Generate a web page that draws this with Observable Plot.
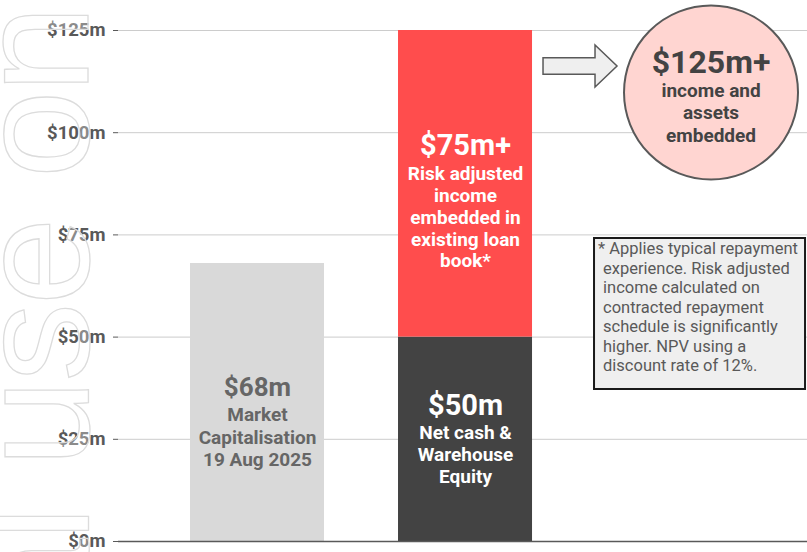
<!DOCTYPE html>
<html><head><meta charset="utf-8">
<script src="https://cdn.jsdelivr.net/npm/d3@7"></script>
<script src="https://cdn.jsdelivr.net/npm/@observablehq/plot@0.6"></script>
<style>
html,body{margin:0;padding:0;background:#fff;}
#chart{width:807px;height:552px;overflow:hidden;font-family:Roboto,sans-serif;}
#chart svg{display:block;}
</style></head><body><div id="chart"></div>
<script>
// ---- data ----
const categories = ["Market Capitalisation", "Embedded value"];
const segmentNames = ["Market Capitalisation", "Net cash & Warehouse Equity", "Risk adjusted income"];
const segmentCategory = ["Market Capitalisation", "Embedded value", "Embedded value"];
const segmentValues = [68, 50, 75];
const segmentColors = ["#d9d9d9", "#434343", "#ff4d4d"];
const headlines = ["$68m", "$50m", "$75m+"];
const bodyLabels = [
  "Market\nCapitalisation\n19 Aug 2025",
  "Net cash &\nWarehouse\nEquity",
  "Risk adjusted\nincome\nembedded in\nexisting loan\nbook*"
];
const yTicks = [0, 25, 50, 75, 100, 125];
const totalHeadline = "$125m+";
const totalBody = "income and\nassets\nembedded";
const noteLines = [
  "* Applies typical repayment",
  "experience. Risk adjusted",
  "income calculated on",
  "contracted repayment",
  "schedule is significantly",
  "higher. NPV using a",
  "discount rate of 12%."
];
const watermark = "For personal use only";

// ---- build table ----
const rows = segmentValues.map((v, i) => ({
  category: segmentCategory[i], name: segmentNames[i], value: v, color: segmentColors[i]
}));
const acc = {};
rows.forEach(r => { r.base = acc[r.category] || 0; acc[r.category] = r.base + r.value; r.top = acc[r.category]; });
const total = acc[categories[1]];
const totalRow = [{category: categories[1], total}];

function segLabels(i, dyHead, dyBody, color, headSize, lh) {
  const d = [rows[i]];
  return [
    Plot.text(d, {x: "category", y: "top", text: () => headlines[i], dy: dyHead, fill: color,
      fontSize: headSize, fontWeight: "bold", lineAnchor: "middle"}),
    Plot.text(d, {x: "category", y: "top", text: () => bodyLabels[i], dy: dyBody, fill: color,
      fontSize: 19, fontWeight: "bold", lineAnchor: "top", lineHeight: lh})
  ];
}

const plot = Plot.plot({
  width: 807, height: 552,
  marginTop: 30, marginBottom: 11, marginLeft: 118, marginRight: 0,
  style: {fontFamily: "Roboto, sans-serif", background: "white", overflow: "visible"},
  x: {domain: categories, paddingInner: 0.3558, paddingOuter: 0.834, align: 0.2075, round: false, axis: null},
  y: {domain: [0, 125], axis: null},
  color: {type: "identity"},
  marks: [
    Plot.gridY(yTicks, {stroke: "#cccccc", strokeOpacity: 1, strokeWidth: 1}),
    Plot.barY(rows, {x: "category", y1: "base", y2: "top", fill: "color"}),
    Plot.ruleY([0], {stroke: "#595959", strokeWidth: 1.5}),
    Plot.axisY(yTicks, {tickSize: 5, tickPadding: 8, tickFormat: d => `$${d}m`,
      fontSize: 18.5, fontWeight: "bold", color: "#595959"}),
    ...segLabels(0, 124, 142, "#666666", 26, 1.18),
    ...segLabels(1, 68.4, 86, "#ffffff", 29, 1.16),
    ...segLabels(2, 115, 134.5, "#ffffff", 29, 1.145),
    Plot.dot(totalRow, {x: "category", y: "total", r: 87, dx: 245.5, dy: 62,
      fill: "#ffd5d1", stroke: "#595959", strokeWidth: 2}),
    Plot.text(totalRow, {x: "category", y: "total", text: () => totalHeadline, dx: 245.5, dy: 32,
      fontSize: 32, fontWeight: "bold", fill: "#434343", lineAnchor: "middle"}),
    Plot.text(totalRow, {x: "category", y: "total", text: () => totalBody, dx: 245.5, dy: 51.3,
      fontSize: 19, fontWeight: "bold", fill: "#434343", lineAnchor: "top", lineHeight: 1.16})
  ]
});
document.getElementById("chart").appendChild(plot);

// ---- annotations (arrow, note box, watermark) ----
const svg = d3.select(plot);
const xs = plot.scale("x"), ys = plot.scale("y");
const bx = xs.apply(categories[1]) + xs.bandwidth;   // right edge of stacked bar
const ty = ys.apply(total);                          // top of stacked bar

const ax = bx + 11, ay = ty + 36;
const arrowPts = [[0,-8.3],[52,-8.3],[52,-21],[74,0],[52,21],[52,8.3],[0,8.3]]
  .map(([px, py]) => [ax + px, ay + py]);
svg.append("path")
  .attr("d", d3.line()(arrowPts) + "Z")
  .attr("fill", "#efefef").attr("stroke", "#595959").attr("stroke-width", 1.5);

const nx = bx + 62, ny = ty + 208;
const note = svg.append("g");
note.append("rect").attr("x", nx).attr("y", ny).attr("width", 211).attr("height", 151)
  .attr("fill", "#efefef").attr("stroke", "#1a1a1a").attr("stroke-width", 2);
const nt = note.append("text").attr("font-family", "Roboto, sans-serif").attr("font-size", 16.5)
  .attr("text-anchor", "start").attr("fill", "#595959");
noteLines.forEach((line, i) => {
  nt.append("tspan").attr("x", nx + (i === 0 ? 4 : 9)).attr("y", ny + 16.3 + i * 19.5).text(line);
});

const wm = svg.append("text")
  .attr("font-family", "'Liberation Sans', Arial, sans-serif")
  .attr("font-size", 158)
  .attr("letter-spacing", "-2.5px")
  .attr("text-anchor", "start")
  .attr("fill", "rgba(255,255,255,0.3)")
  .attr("stroke", "#dcdcdc").attr("stroke-width", 1.3)
  .text(watermark);
const off = wm.node().getSubStringLength(0, watermark.indexOf("use"));
wm.attr("transform", `translate(88,${467 + off}) rotate(-90)`);
</script></body></html>
